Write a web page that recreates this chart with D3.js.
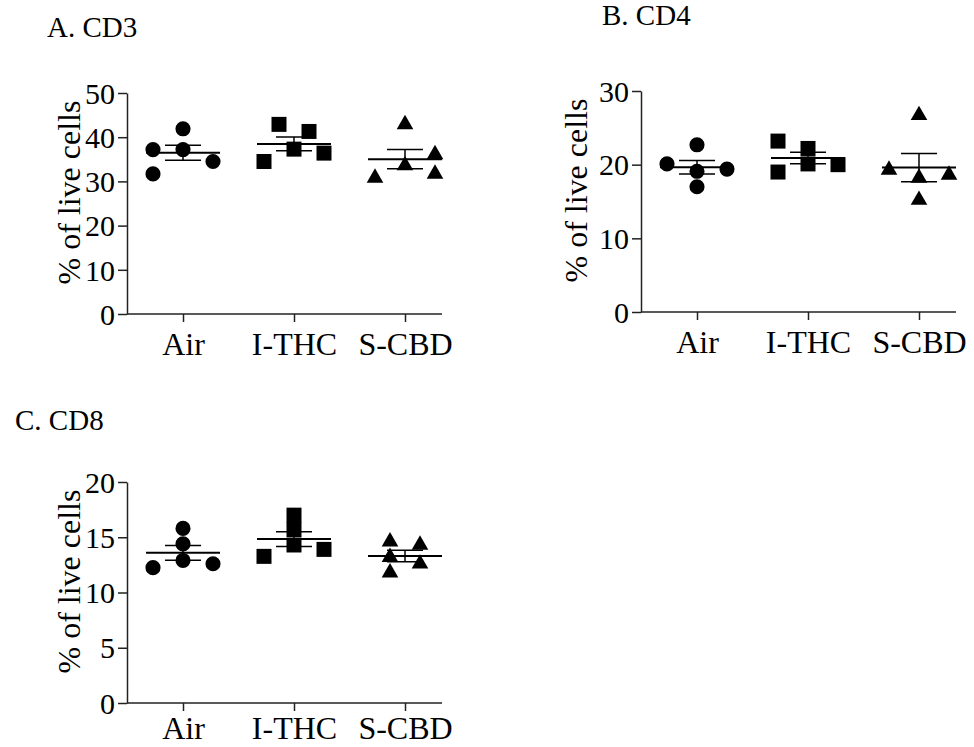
<!DOCTYPE html>
<html>
<head>
<meta charset="utf-8">
<script src="https://cdn.jsdelivr.net/npm/d3@7"></script>
<style>
	body { margin: 0; background: #fff; }
	text { font-family: "Liberation Serif", "Times New Roman", serif; fill: #000; }
</style>
</head>
<body>
<div id="chart"></div>
<script>
	"use strict";

	var categories = ["Air", "I-THC", "S-CBD"];

	// CD3 (% of live cells)
	var cd3Air = [37.2, 41.9, 37.2, 34.5, 31.7],
		cd3Thc = [34.5, 42.9, 37.3, 41.3, 36.4],
		cd3Cbd = [30.8, 42.9, 33.6, 36.1, 31.7];
	// CD4
	var cd4Air = [20.1, 22.7, 19.1, 19.4, 17.0],
		cd4Thc = [23.2, 19.0, 22.2, 20.1, 20.0],
		cd4Cbd = [19.3, 26.7, 18.2, 15.2, 18.6];
	// CD8
	var cd8Air = [12.25, 15.8, 14.4, 12.9, 12.6],
		cd8Thc = [13.27, 17.0, 15.7, 14.3, 13.9],
		cd8Cbd = [14.6, 13.2, 11.8, 14.3, 12.6];

	// scatter column of each point (GraphPad style spreading), per group
	var cd3Cols = [[-2, 0, 0, 2, -2], [-2, -1, 0, 1, 2], [-2, 0, 0, 2, 2]],
		cd4Cols = [[-2, 0, 0, 2, 0], [-2, -2, 0, 0, 2], [-2, 0, 0, 0, 2]],
		cd8Cols = [[-2, 0, 0, 0, 2], [-2, 0, 0, 0, 2], [-1, -1, -1, 1, 1]];

	var cd3Ticks = [0, 10, 20, 30, 40, 50],
		cd4Ticks = [0, 10, 20, 30],
		cd8Ticks = [0, 5, 10, 15, 20];

	var titles = ["A. CD3", "B. CD4", "C. CD8"],
		yLabel = "% of live cells";

	var chartWidth = 974,
		chartHeight = 747,
		fontFamily = "'Liberation Serif', 'Times New Roman', serif",
		colStep = 15,
		meanHalf = 37,
		capHalf = 18,
		symbols = [d3.symbolCircle, d3.symbolSquare, d3.symbolTriangle],
		symbolSizes = [180, 225, 120];

	var svg = d3.select("#chart")
		.append("svg")
		.attr("width", chartWidth)
		.attr("height", chartHeight)
		.attr("font-family", fontFamily);

	var panels = [
		{ title: titles[0], groups: [cd3Air, cd3Thc, cd3Cbd], cols: cd3Cols, ticks: cd3Ticks,
		  x0: 127, top: 93, bottom: 314, titleX: 47, titleY: 37, labelDx: 47, pad: 10 },
		{ title: titles[1], groups: [cd4Air, cd4Thc, cd4Cbd], cols: cd4Cols, ticks: cd4Ticks,
		  x0: 641, top: 91, bottom: 312, titleX: 602, titleY: 25, labelDx: 54, pad: 10 },
		{ title: titles[2], groups: [cd8Air, cd8Thc, cd8Cbd], cols: cd8Cols, ticks: cd8Ticks,
		  x0: 127, top: 482, bottom: 703, titleX: 15, titleY: 430, labelDx: 47, pad: 5 }
	];

	function mean(arr) {
		return d3.mean(arr);
	}

	function sem(arr) {
		return d3.deviation(arr) / Math.sqrt(arr.length);
	}

	function drawPanel(p) {
		var g = svg.append("g"),
			xScale = d3.scalePoint().domain(categories).range([p.x0 + 56, p.x0 + 278]),
			yScale = d3.scaleLinear()
				.domain([p.ticks[0], p.ticks[p.ticks.length - 1]])
				.range([p.bottom, p.top]);

		g.append("text")
			.attr("x", p.titleX)
			.attr("y", p.titleY)
			.attr("font-family", fontFamily)
			.style("font-size", "29px")
			.text(p.title);

		// y axis
		var yAxis = g.append("g")
			.attr("transform", "translate(" + p.x0 + ",0)")
			.call(d3.axisLeft(yScale).tickValues(p.ticks).tickSize(9).tickPadding(3).tickSizeOuter(0))
			.attr("font-family", fontFamily);
		yAxis.selectAll("text").style("font-size", "30px").attr("dy", "0.34em");

		// x axis
		var xAxis = g.append("g")
			.attr("transform", "translate(0," + p.bottom + ")")
			.call(d3.axisBottom(xScale).tickSize(8).tickPadding(p.pad).tickSizeOuter(0))
			.attr("font-family", fontFamily);
		xAxis.select(".domain").attr("d", "M" + p.x0 + ",0H" + (p.x0 + 315));
		xAxis.selectAll("text").style("font-size", "32px").attr("dy", "0.71em");

		g.selectAll(".domain, .tick line")
			.attr("stroke", "#222")
			.attr("stroke-width", 1.5);

		g.append("text")
			.attr("transform", "translate(" + (p.x0 - p.labelDx) + "," + ((p.top + p.bottom) / 2 - 11) + ") rotate(-90)")
			.attr("text-anchor", "middle")
			.attr("font-family", fontFamily)
			.style("font-size", "32px")
			.text(yLabel);

		p.groups.forEach(function(values, gi) {
			var cx = xScale(categories[gi]),
				m = mean(values),
				s = sem(values);

			g.append("g")
				.selectAll("path")
				.data(values)
				.enter()
				.append("path")
				.attr("d", d3.symbol().type(symbols[gi]).size(symbolSizes[gi]))
				.attr("transform", function(d, i) {
					return "translate(" + (cx + p.cols[gi][i] * colStep) + "," + yScale(d) + ")";
				})
				.attr("fill", "#000");

			var eb = g.append("g")
				.attr("stroke", "#000")
				.attr("fill", "none");
			eb.append("line")
				.attr("x1", cx - meanHalf).attr("x2", cx + meanHalf)
				.attr("y1", yScale(m)).attr("y2", yScale(m))
				.attr("stroke-width", 2);
			eb.append("line")
				.attr("x1", cx).attr("x2", cx)
				.attr("y1", yScale(m + s)).attr("y2", yScale(m - s))
				.attr("stroke-width", 1.5);
			[m + s, m - s].forEach(function(v) {
				eb.append("line")
					.attr("x1", cx - capHalf).attr("x2", cx + capHalf)
					.attr("y1", yScale(v)).attr("y2", yScale(v))
					.attr("stroke-width", 1.5);
			});
		});
	}

	panels.forEach(drawPanel);
</script>
</body>
</html>
